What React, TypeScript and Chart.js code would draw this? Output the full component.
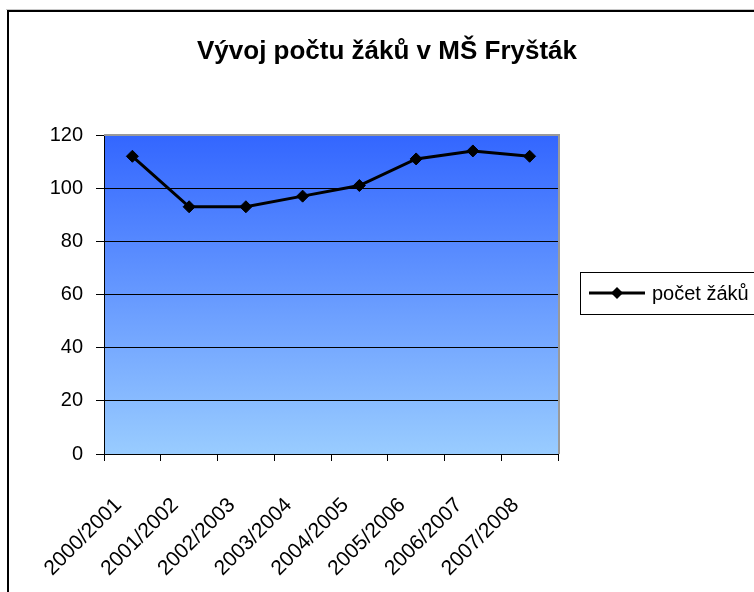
import React, { useEffect, useRef } from "react";
import { Chart, registerables } from "chart.js";

Chart.register(...registerables);

const TITLE = "Vývoj počtu žáků v MŠ Fryšták";
const SERIES_LABEL = "počet žáků";
const categories = [
  "2000/2001",
  "2001/2002",
  "2002/2003",
  "2003/2004",
  "2004/2005",
  "2005/2006",
  "2006/2007",
  "2007/2008",
];
const pupils = [112, 93, 93, 97, 101, 111, 114, 112];
const yTicks = [0, 20, 40, 60, 80, 100, 120];

const FONT = "'Liberation Sans', Arial, sans-serif";

const decorPlugin = {
  id: "decor",
  beforeDraw(chart: any) {
    const { ctx, chartArea } = chart;
    const { left, right, top, bottom } = chartArea;
    ctx.save();
    ctx.fillStyle = "#ffffff";
    ctx.fillRect(0, 0, chart.width, chart.height);
    const g = ctx.createLinearGradient(0, top, 0, bottom);
    g.addColorStop(0, "#3366ff");
    g.addColorStop(1, "#99ccff");
    ctx.fillStyle = g;
    ctx.fillRect(left, top, right - left, bottom - top);
    ctx.restore();
  },
  afterDraw(chart: any) {
    const { ctx, chartArea } = chart;
    const { left, right, top, bottom } = chartArea;
    ctx.save();
    // plot area gray frame (top & right)
    ctx.strokeStyle = "#9a9a9a";
    ctx.lineWidth = 2;
    ctx.beginPath();
    ctx.moveTo(left, top);
    ctx.lineTo(right + 1, top);
    ctx.lineTo(right + 1, bottom);
    ctx.stroke();

    // outer black frame
    ctx.fillStyle = "#c8c8c8";
    ctx.fillRect(6, 9, chart.width, 1);
    ctx.fillStyle = "#000000";
    ctx.fillRect(7, 10, 2, chart.height);
    ctx.fillRect(7, 10, chart.width, 2);

    // title
    ctx.fillStyle = "#000000";
    ctx.font = `bold 26px ${FONT}`;
    ctx.textAlign = "center";
    ctx.textBaseline = "alphabetic";
    ctx.fillText(TITLE, 387, 59);

    // legend
    const ds = chart.data.datasets[0];
    ctx.strokeStyle = "#000000";
    ctx.lineWidth = 1;
    ctx.strokeRect(580.5, 272.5, 240, 42);
    ctx.strokeStyle = ds.borderColor;
    ctx.lineWidth = ds.borderWidth;
    ctx.beginPath();
    ctx.moveTo(589, 293);
    ctx.lineTo(645, 293);
    ctx.stroke();
    ctx.fillStyle = ds.pointBackgroundColor;
    ctx.beginPath();
    ctx.moveTo(611, 293);
    ctx.lineTo(617, 287);
    ctx.lineTo(623, 293);
    ctx.lineTo(617, 299);
    ctx.closePath();
    ctx.fill();
    ctx.fillStyle = "#000000";
    ctx.font = `20px ${FONT}`;
    ctx.textAlign = "left";
    ctx.textBaseline = "middle";
    ctx.fillText(ds.label, 652, 294);
    ctx.restore();
  },
};

export default function App() {
  const ref = useRef<HTMLCanvasElement | null>(null);
  useEffect(() => {
    if (!ref.current) return;
    const chart = new Chart(ref.current, {
      type: "line",
      data: {
        labels: categories,
        datasets: [
          {
            label: SERIES_LABEL,
            data: pupils,
            borderColor: "#000000",
            borderWidth: 3,
            pointStyle: "rectRot",
            pointRadius: 6,
            pointBackgroundColor: "#000000",
            pointBorderColor: "#000000",
            pointBorderWidth: 1,
            tension: 0,
            fill: false,
          },
        ],
      },
      options: {
        animation: false,
        responsive: false,
        layout: { padding: { top: 135, right: 196, left: 0, bottom: 0 } },
        plugins: {
          legend: { display: false },
          title: { display: false },
          tooltip: { enabled: false },
        },
        scales: {
          x: {
            type: "category",
            offset: true,
            afterFit(scale: any) {
              scale.height = 138;
            },
            grid: {
              offset: true,
              drawOnChartArea: false,
              color: "#000000",
              tickLength: 7,
              lineWidth: 1,
            },
            border: { display: true, color: "#000000", width: 1 },
            ticks: {
              autoSkip: false,
              minRotation: 45,
              maxRotation: 45,
              padding: 32,
              labelOffset: -14,
              color: "#000000",
              font: { family: FONT, size: 21 },
            },
          },
          y: {
            min: 0,
            max: 120,
            afterFit(scale: any) {
              scale.width = 104;
            },
            afterBuildTicks(scale: any) {
              scale.ticks = yTicks.map((v) => ({ value: v }));
            },
            grid: {
              color: "#000000",
              lineWidth: 1,
              tickLength: 8,
            },
            border: { display: true, color: "#000000", width: 1 },
            ticks: {
              padding: 13,
              color: "#000000",
              font: { family: FONT, size: 20 },
            },
          },
        },
      },
      plugins: [decorPlugin],
    });
    return () => chart.destroy();
  }, []);
  return (
    <div style={{ position: "fixed", left: 0, top: 0, width: 754, height: 592 }}>
      <canvas ref={ref} width={754} height={592} style={{ display: "block" }} />
    </div>
  );
}
